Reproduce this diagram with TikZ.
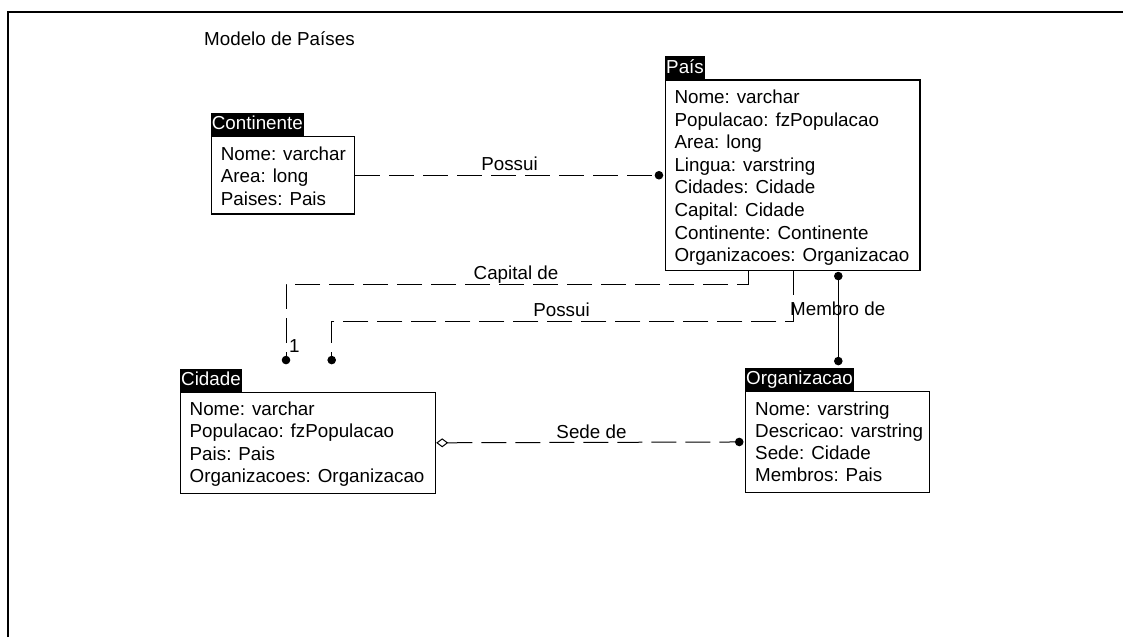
\documentclass[tikz,border=0pt]{standalone}
\usepackage{fontspec}
\setmainfont{Liberation Sans}
\usetikzlibrary{arrows.meta}
\begin{document}
\begin{tikzpicture}[x=1pt,y=-1pt,
  every node/.style={font=\fontsize{18.8}{22.6}\selectfont},
  hdr/.style={fill=black,text=white,inner xsep=1pt,inner ysep=1.85pt,text height=15pt,text depth=4pt,anchor=south west},
  umlbox/.style={draw,line width=1.2pt,anchor=north west,inner sep=0pt},
  attr/.style={anchor=base west,inner sep=0pt},
  rel/.style={line width=1pt,dash pattern=on 25pt off 9pt},
  lbl/.style={anchor=base,inner sep=0pt},
  dotend/.style={-{Circle[length=8.5pt]}},
  frame/.style={line width=2pt}
]
\useasboundingbox (0,0) rectangle (1123,637);
\coordinate (fbl) at (8,637);
\coordinate (ftl) at (8,11.5);
\coordinate (ftr) at (1123,11.5);
\draw[frame] (fbl) -- (ftl) -- (ftr);

\node[anchor=base west,inner sep=0pt] (title) at (204,45) {Modelo de Países};

% Continente
\node[umlbox,minimum width=143.3pt,minimum height=77.3pt] (cont) at (210.7,136) {};
\node[hdr] (conth) at (cont.north west) {Continente};
\foreach \t [count=\i] in {Nome: varchar,Area: long,Paises: Pais}
  \node[attr,xshift=10pt,yshift={-24.5pt-(\i-1)*22.3pt}] (cont-\i) at (cont.north west) {\t};

% Pais
\node[umlbox,minimum width=254.3pt,minimum height=190.7pt] (pais) at (665,79.3) {};
\node[hdr] (paish) at (pais.north west) {País};
\foreach \t [count=\i] in {Nome: varchar,Populacao: fzPopulacao,Area: long,Lingua: varstring,Cidades: Cidade,Capital: Cidade,Continente: Continente,Organizacoes: Organizacao}
  \node[attr,xshift=9.3pt,yshift={-24.2pt-(\i-1)*22.6pt}] (pais-\i) at (pais.north west) {\t};

% Cidade
\node[umlbox,minimum width=255pt,minimum height=101pt] (cid) at (180,391.7) {};
\node[hdr] (cidh) at (cid.north west) {Cidade};
\foreach \t [count=\i] in {Nome: varchar,Populacao: fzPopulacao,Pais: Pais,Organizacoes: Organizacao}
  \node[attr,xshift=9.5pt,yshift={-23.5pt-(\i-1)*22.5pt}] (cid-\i) at (cid.north west) {\t};

% Organizacao
\node[umlbox,minimum width=184pt,minimum height=100.7pt] (org) at (745,391) {};
\node[hdr] (orgh) at (org.north west) {Organizacao};
\foreach \t [count=\i] in {Nome: varstring,Descricao: varstring,Sede: Cidade,Membros: Pais}
  \node[attr,xshift=10pt,yshift={-24pt-(\i-1)*22.3pt}] (org-\i) at (org.north west) {\t};

% Continente -- Pais : Possui
\draw[rel,dotend,shorten >=1.8pt] (cont.east) -- (pais.west);
\node[lbl] (l1) at (509.5,170.7) {Possui};

% Capital de
\coordinate (capA) at (748,270);
\coordinate (capB) at (286,364.3);
\draw[rel,dotend] (capA) -- (capA |- 0,284) -- (capB |- 0,284) -- (capB);
\node[lbl] (l2) at (516,279) {Capital de};
\node[anchor=base west,inner sep=0pt] (l2m) at (289,352) {1};

% Possui (Pais -> Cidade)
\coordinate (posA) at (793.3,270);
\coordinate (posB) at (331.7,364.3);
\draw[rel,dotend] (posA) -- (posA |- 0,321) -- (posB |- 0,321) -- (posB);
\node[lbl] (l3) at (561.5,316.7) {Possui};

% Membro de
\coordinate (memA) at (838.3,270);
\coordinate (memB) at (838.3,369.3);
\draw[line width=1pt,{Circle[length=8.5pt]}-{Circle[length=8.5pt]},shorten <=1.8pt,shorten >=4pt] (memA) -- (memB);
\node[anchor=base west,inner sep=0pt] (l4) at (790,315) {Membro de};

% Sede de
\draw[rel,{Diamond[open,length=12pt,width=9pt]}-{Circle[length=8.5pt]},shorten >=1.5pt] (cid.east) -- (org.west);
\node[lbl] (l5) at (591.5,438.3) {Sede de};
\end{tikzpicture}
\end{document}
